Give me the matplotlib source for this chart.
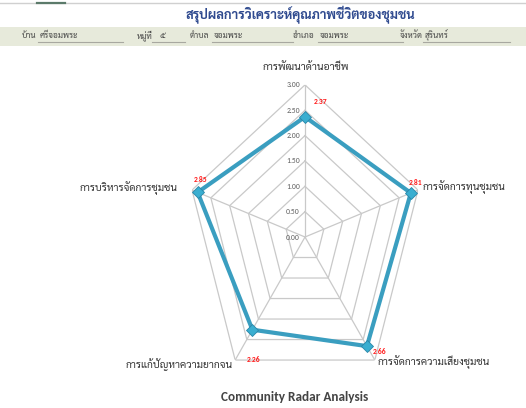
import numpy as np
import matplotlib
matplotlib.use("Agg")
import matplotlib.pyplot as plt

# ---------------- data ----------------
categories = ["การพัฒนาด้านอาชีพ", "การจัดการทุนชุมชน", "การจัดการความเสี่ยงชุมชน",
              "การแก้ปัญหาความยากจน", "การบริหารจัดการชุมชน"]
values = [2.37, 2.81, 2.66, 2.26, 2.85]
grid_levels = [0.5, 1.0, 1.5, 2.0, 2.5, 3.0]
tick_levels = [0.0, 0.5, 1.0, 1.5, 2.0, 2.5, 3.0]
title_th = "สรุปผลการวิเคราะห์คุณภาพชีวิตของชุมชน"
chart_title = "Community Radar Analysis"
header_fields = [("บ้าน", "ศรีจอมพระ"), ("หมู่ที่", "๕"), ("ตำบล", "จอมพระ"),
                 ("อำเภอ", "จอมพระ"), ("จังหวัด", "สุรินทร์")]

W, H = 526, 408
THAI = ["Sarabun", "Noto Sans Thai Looped", "DejaVu Sans"]
THAI_B = ["Sarabun", "Noto Serif Thai", "DejaVu Sans"]
LATIN = ["Carlito", "Liberation Sans Narrow", "DejaVu Sans"]

fig = plt.figure(figsize=(W / 100, H / 100), dpi=100)
fig.patch.set_facecolor("white")


def fx(x):
    return x / W


def fy(y):
    return 1 - y / H


# ---------------- header ----------------
fig.add_artist(plt.Line2D([0, 1], [fy(3), fy(3)], color="#d0d0d0", lw=1.0))
fig.add_artist(plt.Line2D([fx(37), fx(65)], [fy(3), fy(3)], color="#5b7a6a", lw=1.6))
fig.text(fx(300), fy(15), title_th, ha="center", va="center", family=THAI_B,
         fontsize=9.3, fontweight="bold", color="#2f4a8f")
fig.add_artist(plt.Rectangle((0, fy(46)), 1, (46 - 27) / H, transform=fig.transFigure,
                             facecolor="#e7eadb", edgecolor="none"))
label_x = [22, 137, 190, 293, 400]
value_x = [38, 157, 212, 318, 423]
line_span = [(38, 123), (152, 185), (212, 293), (318, 403), (423, 510)]
for (lab, val), lx, vx, (a, b) in zip(header_fields, label_x, value_x, line_span):
    fig.text(fx(lx), fy(36), lab, ha="left", va="center", family=THAI, fontsize=6, color="#444444")
    fig.text(fx(vx + 2), fy(35.5), val, ha="left", va="center", family=THAI, fontsize=6, color="#444444")
    fig.add_artist(plt.Line2D([fx(a), fx(b)], [fy(42), fy(42)], color="#a8a8a0", lw=0.8))

# ---------------- radar ----------------
cx, cy = 305, 237
sx, sy = 39.6, 50.7  # px per unit
rmax = 3.0
ax = fig.add_axes([fx(cx - sx * rmax), fy(cy + sy * rmax), 2 * sx * rmax / W, 2 * sy * rmax / H],
                  projection="polar")
ax.set_aspect("auto")
ax.set_theta_offset(np.pi / 2)
ax.set_theta_direction(-1)
ax.set_ylim(0, rmax)
ax.set_xticks([])
ax.set_yticks([])
ax.grid(False)
ax.spines["polar"].set_visible(False)
ax.patch.set_alpha(0)

n = len(categories)
theta = np.arange(n) * 2 * np.pi / n
theta_c = np.append(theta, theta[0])

for lv in grid_levels:
    ax.plot(theta_c, [lv] * (n + 1), color="#c9c9c9", lw=0.9, zorder=1)
for t in theta:
    ax.plot([t, t], [0, rmax], color="#c9c9c9", lw=0.9, zorder=1)

for lv in tick_levels:
    ax.annotate(f"{lv:.2f}", xy=(0, lv), xytext=(-5, 0), textcoords="offset pixels",
                ha="right", va="center", fontsize=5.5, color="#606060", family=LATIN)

vals_c = values + values[:1]
ax.plot(theta_c, vals_c, color="#3a9ec0", lw=3.0, zorder=3, solid_joinstyle="miter")
ax.plot(theta, values, linestyle="none", marker="D", markersize=6.5,
        markerfacecolor="#3aaed0", markeredgecolor="#2a86a8", markeredgewidth=0.6, zorder=4)

label_offsets = [(16, 15), (5, 10), (13, -5), (1, -30), (3, 13)]
for t, v, (dx, dy) in zip(theta, values, label_offsets):
    ax.annotate(f"{v:.2f}", xy=(t, v), xytext=(dx, dy), textcoords="offset pixels",
                ha="center", va="center", fontsize=5.5, fontweight="bold", color="#ff1a1a",
                family=LATIN)

# category labels
cat_pos = [(306, 67, "center"), (423, 187, "left"), (378, 362, "left"),
           (233, 365, "right"), (178, 188, "right")]
for name, (x, y, ha) in zip(categories, cat_pos):
    fig.text(fx(x), fy(y), name, ha=ha, va="center", family=THAI, fontsize=7.5, color="#333333")

fig.text(fx(295), fy(397), chart_title, ha="center", va="center",
         family=LATIN, fontsize=9.5, fontweight="bold", color="#444444")

fig.savefig("out.png", dpi=100)
